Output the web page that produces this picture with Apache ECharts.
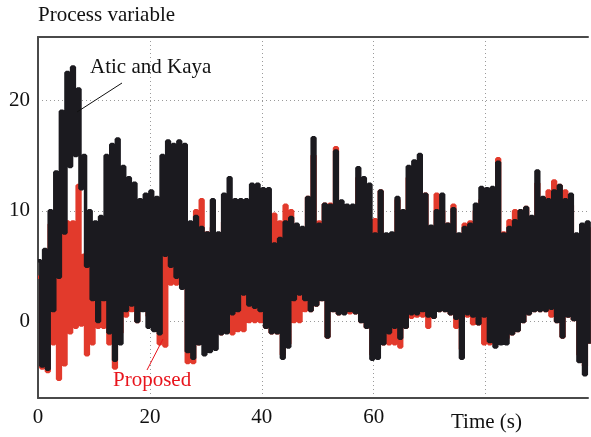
<!DOCTYPE html>
<html>
<head>
<meta charset="utf-8">
<script src="https://cdn.jsdelivr.net/npm/echarts@6/dist/echarts.min.js"></script>
<style>
  html, body { margin: 0; padding: 0; background: #fff; }
  #chart { width: 591px; height: 437px; }
</style>
</head>
<body>
<div id="chart"></div>
<script>
// one pair per second: high sample at t, low sample at t + 0.5
var akHi = [5.5, 6.5, 10, 13.5, 19, 22.5, 23, 21, 15, 10,
  9, 9.5, 15, 16, 16.5, 14, 13, 12.5, 11, 11.5,
  11.8, 11.2, 15, 16.3, 16, 16.3, 16, 9, 9.5, 8.5,
  8, 11, 8, 11.5, 13, 11, 11, 11, 12.4, 12.4,
  12, 12, 7, 7.5, 9, 9.4, 8.8, 8.5, 11.2, 16.6,
  8.8, 10.6, 10.5, 15.4, 10.9, 10.5, 10.5, 13.9, 13, 12.4,
  7.9, 11.8, 7.9, 8, 11.2, 10, 14, 14.5, 15.1, 11.5,
  8.6, 10, 11.5, 8.8, 10.2, 7.9, 8.5, 8.8, 10.6, 12.1,
  12, 12.1, 14.4, 7.9, 8.5, 9.1, 10, 10.3, 9.5, 13.6,
  11.2, 11, 11.8, 12.3, 11, 11.5, 7.9, 8.8, 9];
var akLo = [-4, -4.3, 1, 4, 8, 14, 15, 12, 5, 2,
  0, 2, -1, -3.5, -2, 1, 1.5, 0, 1, -0.5,
  -0.8, -1.1, 6, 5, 4, 3, -2.7, -3.3, -2, -3,
  -2.7, -2.5, -1.1, -1, 0.7, 1, 2.5, 1.5, 1.3, 1,
  -0.5, -1, -1, -3.3, -2.3, 2, 2.5, 2, 1, 1.5,
  2, -1.4, 1, 0.7, 0.7, 1, 0.8, 0, -0.5, -3.4,
  -3.3, -2, -1, -0.5, -1.5, -0.5, 0.7, 0.7, 1, 0.5,
  0.4, 1, 1, 0.7, 0.3, -3.3, 0.7, 0.5, -0.2, 0.5,
  -1.8, -2.3, -2, -2, -1.1, -0.8, 0, 0.7, 1, 1,
  1, 1.2, 0, -1.4, 0.5, 0.2, -3.6, -4.8, -2];
var propHi = [4, 5, 8.8, 9, 9.5, 9, 9, 12.3, 6, 5,
  5, 4, 3, 4, 6.7, 6.7, 6, 5.5, 5, 5,
  6, 7, 7.6, 7.6, 7, 8, 9, 8, 10, 11,
  8, 8.5, 7, 9, 10, 9, 9, 10, 10, 10,
  10, 9.7, 9.7, 9, 10.5, 10, 8, 8, 11.2, 15,
  9, 10.6, 10.6, 15.7, 10, 9, 9, 13, 12, 9.2,
  9.2, 11.8, 7, 7, 11, 9, 13, 14, 14.5, 11.5,
  8, 11.5, 10, 8.8, 10.5, 7.5, 8.8, 9, 10, 11,
  11, 11.5, 14.7, 8, 9.1, 10, 10, 10.3, 9, 12.5,
  11, 11.8, 12.7, 12.3, 11.8, 10.5, 7.5, 8, 8.5];
var propLo = [-4.2, -4.5, -2, -5.2, -3.9, -1, -0.5, -0.3, -3, -2,
  -0.5, -0.5, -2, -4.2, -1, 0.5, 1, 0, 1.5, 0.5,
  -0.5, -2, -2.2, 3.4, 3.4, 3.4, -3.7, -3.7, -2, -2,
  -1, -1, -1.1, -0.5, -1.1, -0.8, -0.8, 0, 0, 0,
  -0.5, -1, -1, -3, -2, 0, 0, 1, 1, 1.5,
  2, -1.4, 1, 0.7, 1, 0.8, 0.8, 0, -0.5, -3,
  -2.5, -2, -2, -2, -2.3, -0.5, 0.4, 0.5, 0.5, -0.5,
  0.4, 1, 1, 0.7, -0.5, -2.5, 0.5, -0.2, -0.2, -2,
  -2, -1.5, -1.5, -1.5, -1.1, -0.8, 0, 0.7, 1, 1,
  1, 0.5, 0, -1.4, 0.5, 0.2, -3, -4, -2];
var xTicks = [0, 20, 40, 60];
var yTicks = [0, 10, 20];

function pairs(hi, lo) {
  var out = [];
  for (var i = 0; i < hi.length; i++) {
    out.push([i, hi[i]]);
    out.push([i + 0.5, lo[i]]);
  }
  return out;
}

var chart = echarts.init(document.getElementById('chart'));
var serif = 'Liberation Serif';
var frame = { show: true, onZero: false, lineStyle: { color: '#4a4a4a', width: 2 } };
var dotted = {
  show: true, showMinLine: false, showMaxLine: false,
  lineStyle: { color: '#9a9a9a', type: [1, 3], width: 1 }
};
var option = {
  animation: false,
  textStyle: { fontFamily: serif },
  grid: { left: 38, right: 0, top: 37, bottom: 39 },
  xAxis: [
    {
      type: 'value',
      min: 0, max: 98.3, interval: 20,
      axisLine: frame,
      axisTick: { show: false },
      axisLabel: {
        color: '#111', fontSize: 21, fontFamily: serif, margin: 9,
        formatter: function (v) { return xTicks.indexOf(v) >= 0 ? String(v) : ''; }
      },
      splitLine: dotted
    },
    {
      // top frame edge only
      type: 'value', position: 'top',
      min: 0, max: 98.3,
      axisLine: frame,
      axisTick: { show: false },
      axisLabel: { show: false },
      splitLine: { show: false }
    }
  ],
  yAxis: {
    type: 'value',
    min: -6.9, max: 25.7, splitNumber: 3,
    axisLine: frame,
    axisTick: { show: false },
    axisLabel: {
      color: '#111', fontSize: 21, fontFamily: serif, margin: 8,
      showMinLabel: false, showMaxLabel: false,
      formatter: function (v) { return yTicks.indexOf(v) >= 0 ? String(v) : ''; }
    },
    splitLine: dotted
  },
  series: [
    {
      name: 'Proposed',
      type: 'line',
      step: 'end',
      symbol: 'none',
      lineStyle: { color: '#e23a2c', width: 3.5 },
      data: pairs(propHi, propLo),
      z: 2
    },
    {
      name: 'Atic and Kaya',
      type: 'line',
      step: 'end',
      symbol: 'none',
      lineStyle: { color: '#1b1a1f', width: 3.5 },
      data: pairs(akHi, akLo),
      z: 3
    }
  ],
  graphic: [
    { type: 'text', left: 38, top: 5, style: { text: 'Process variable', font: '21px "Liberation Serif"', fill: '#111' } },
    { type: 'text', left: 451, top: 412, style: { text: 'Time (s)', font: '21px "Liberation Serif"', fill: '#111' } },
    { type: 'text', left: 90, top: 57, z: 10, style: { text: 'Atic and Kaya', font: '21px "Liberation Serif"', fill: '#111' } },
    { type: 'line', z: 10, shape: { x1: 122, y1: 83, x2: 77, y2: 112 }, style: { stroke: '#111', lineWidth: 1 } },
    { type: 'text', left: 113, top: 370, z: 10, style: { text: 'Proposed', font: '21px "Liberation Serif"', fill: '#e8141c' } },
    { type: 'line', z: 10, shape: { x1: 147, y1: 370, x2: 163, y2: 339 }, style: { stroke: '#e8141c', lineWidth: 1 } }
  ]
};
chart.setOption(option);
</script>
</body>
</html>
